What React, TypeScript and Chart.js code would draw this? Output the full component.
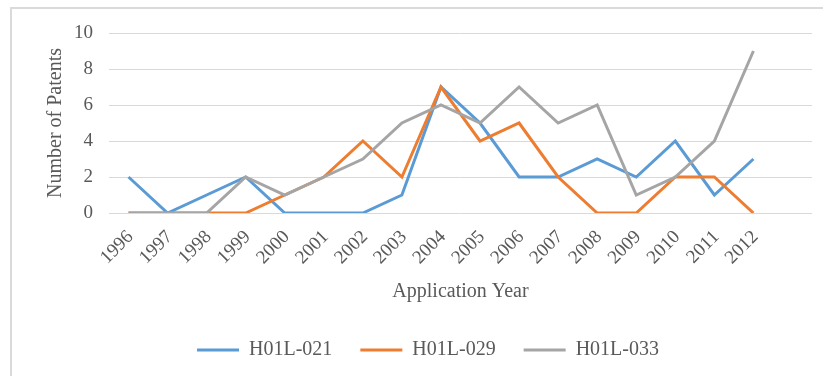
import React, { useEffect, useRef } from 'react';
import { Chart, registerables } from 'chart.js';

Chart.register(...registerables);

const years = ['1996', '1997', '1998', '1999', '2000', '2001', '2002', '2003', '2004', '2005', '2006', '2007', '2008', '2009', '2010', '2011', '2012', ''];
const seriesNames = ['H01L-021', 'H01L-029', 'H01L-033'];
const h01l021 = [2, 0, 1, 2, 0, 0, 0, 1, 7, 5, 2, 2, 3, 2, 4, 1, 3];
const h01l029 = [0, 0, 0, 0, 1, 2, 4, 2, 7, 4, 5, 2, 0, 0, 2, 2, 0];
const h01l033 = [0, 0, 0, 2, 1, 2, 3, 5, 6, 5, 7, 5, 6, 1, 2, 4, 9];
const seriesColors = ['#5B9BD5', '#ED7D31', '#A5A5A5'];
const yMin = 0;
const yMax = 10;
const yStep = 2;

const FONT = "'Liberation Serif', 'Times New Roman', serif";
const TEXT = '#595959';

export default function App() {
  const canvasRef = useRef<HTMLCanvasElement | null>(null);

  useEffect(() => {
    if (!canvasRef.current) return;
    const values = [h01l021, h01l029, h01l033];
    // reversed so the later series is drawn on top; legend reversed back
    const datasets = [2, 1, 0].map((i) => ({
      label: seriesNames[i],
      data: values[i],
      borderColor: seriesColors[i],
      backgroundColor: seriesColors[i],
      borderWidth: 3,
      pointRadius: 0,
      pointHoverRadius: 0,
      tension: 0,
      fill: false,
    }));
    const chart = new Chart(canvasRef.current, {
      type: 'line',
      data: { labels: years, datasets },
      options: {
        animation: false,
        responsive: false,
        devicePixelRatio: 1,
        layout: { padding: { left: 44, right: 11, top: 33, bottom: 6 } },
        plugins: {
          tooltip: { enabled: false },
          legend: {
            position: 'bottom',
            reverse: true,
            labels: {
              usePointStyle: true,
              pointStyle: 'line',
              pointStyleWidth: 42,
              padding: 28,
              color: TEXT,
              font: { family: FONT, size: 20 },
            },
          },
        },
        scales: {
          x: {
            offset: true,
            grid: { display: false, drawTicks: false },
            border: { display: false },
            ticks: {
              autoSkip: false,
              minRotation: 45,
              maxRotation: 45,
              padding: 13,
              labelOffset: 2,
              color: TEXT,
              font: { family: FONT, size: 19 },
            },
            title: {
              display: true,
              text: 'Application Year',
              color: TEXT,
              font: { family: FONT, size: 20 },
              padding: { top: 0, bottom: 8 },
            },
            afterFit: (s: any) => {
              s.height = 99;
            },
          },
          y: {
            min: yMin,
            max: yMax,
            grid: { color: '#D9D9D9', lineWidth: 1, drawTicks: false },
            border: { display: false },
            ticks: {
              stepSize: yStep,
              padding: 16,
              color: TEXT,
              font: { family: FONT, size: 19 },
            },
            title: {
              display: true,
              text: 'Number of Patents',
              color: TEXT,
              font: { family: FONT, size: 20 },
              padding: { top: 0, bottom: 0 },
            },
            afterFit: (s: any) => {
              s.width = 65;
            },
          },
        },
      },
    } as any);
    return () => chart.destroy();
  }, []);

  return (
    <div style={{ position: 'fixed', left: 0, top: 0, width: 823, height: 376, background: '#fff' }}>
      <div
        style={{
          position: 'absolute',
          left: 10,
          top: 7,
          width: 830,
          height: 400,
          borderLeft: '2px solid #DADADA',
          borderTop: '2px solid #DADADA',
        }}
      />
      <canvas ref={canvasRef} width={823} height={376} style={{ position: 'absolute', left: 0, top: 0 }} />
    </div>
  );
}
